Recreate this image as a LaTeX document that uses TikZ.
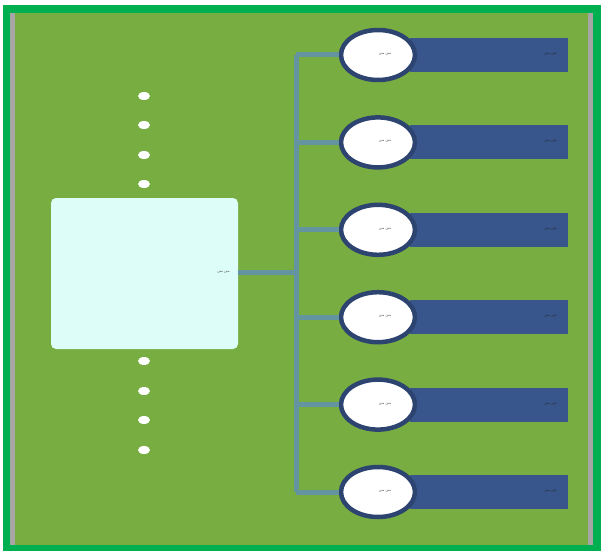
\documentclass[tikz,border=0pt]{standalone}
\usepackage{fontspec}
\usepackage{tikz}
\usetikzlibrary{shapes.geometric,calc}
\newfontfamily\arabicfont[Script=Arabic]{DejaVu Sans}
\TeXXeTstate=1
\definecolor{frameGreen}{HTML}{00B050}
\definecolor{fieldGreen}{HTML}{78AD42}
\definecolor{edgeGray}{HTML}{A6A6A6}
\definecolor{hubCyan}{HTML}{DDFDF8}
\definecolor{trunkBlue}{HTML}{6494A0}
\definecolor{barBlue}{HTML}{38568C}
\definecolor{ringBlue}{HTML}{2E4470}
\tikzset{
  trunk/.style={draw=trunkBlue,line width=5pt},
  bar/.style={fill=barBlue,minimum width=158pt,minimum height=34pt,inner sep=0pt},
  oval/.style={ellipse,draw=ringBlue,line width=4.5pt,fill=white,minimum width=74pt,minimum height=50pt,inner sep=0pt},
  small/.style={font=\arabicfont\fontsize{3.5}{4}\selectfont,text=black!70}
}
\begin{document}
\begin{tikzpicture}[line cap=round,line join=round,x=1pt,y=-1pt]
                \useasboundingbox (0,0) rectangle (603,551);
                \fill [white] (0,0) rectangle (603,551);
                \fill [frameGreen] (3,5) rectangle (601,551);
                \fill [edgeGray] (10,13) rectangle (593,545);
                \fill [fieldGreen] (15,13) rectangle (588,545);
                \node [fill=hubCyan,rounded corners=5pt,minimum width=187pt,minimum height=151pt,inner sep=0pt] (hub) at (144.5,273.5) {};
                \node [small,anchor=east] (hubtext) at ($(hub.east)+(-5,-1.5)$) {\beginR متن متن\endR};
                \foreach \y in {96,125,155,184,361,391,420,450}
                  \fill [white] (144,\y) ellipse (6pt and 4pt);
                \coordinate (top) at (296,55);
                \coordinate (bot) at (296,492);
                \coordinate (mid) at (296,272);
                \draw [trunk,line cap=butt] (hub.east |- mid) -- (mid);
                \draw [trunk,line cap=butt] (top) -- (bot);
                \foreach \y [count=\i] in {55,142.4,229.8,317.2,404.6,492} {
                  \coordinate (branch\i) at (296,\y);
                  \node [bar] (bar\i) at (489,\y) {};
                  \node [oval] (oval\i) at (378,\y) {};
                  \draw [trunk,line cap=butt] (branch\i) -- (oval\i.west);
                  \node [small] (ovaltext\i) at ($(oval\i)+(7,-1)$) {\beginR متن متن\endR};
                  \node [small,anchor=east,text=black!85] (bartext\i) at ($(bar\i.east)+(-8,-1)$) {\beginR متن متن\endR};
                }
                \end{tikzpicture}
\end{document}
